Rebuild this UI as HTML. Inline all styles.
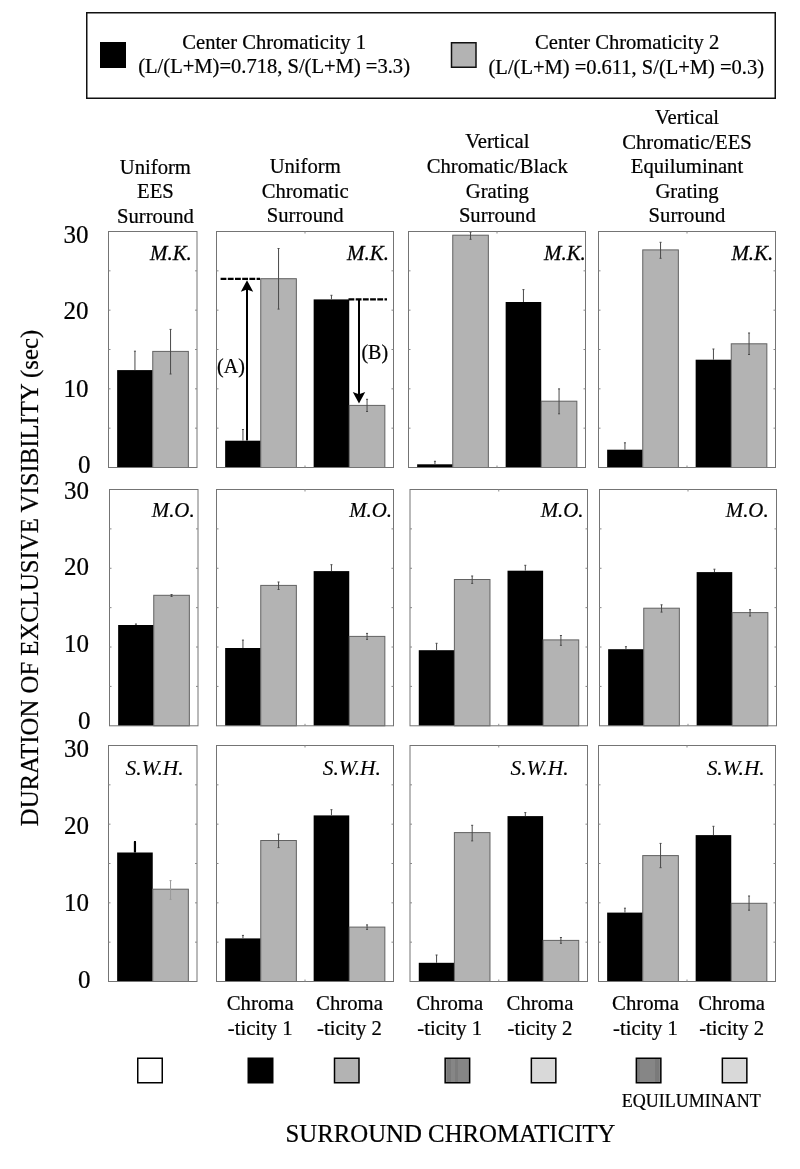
<!DOCTYPE html><html><head><meta charset="utf-8"><title>Figure</title><style>html,body{margin:0;padding:0;background:#fff;}svg{display:block;filter:grayscale(1);}text{font-family:"Liberation Serif", serif;fill:#000;stroke:#000;stroke-width:0.22px;}</style></head><body>
<svg width="800" height="1169" viewBox="0 0 800 1169">
<rect x="0" y="0" width="800" height="1169" fill="#fff"/>
<rect x="86.75" y="12.75" width="688.5" height="85.5" fill="none" stroke="#111" stroke-width="1.5"/>
<rect x="100" y="42" width="26" height="26" fill="#000"/>
<rect x="451.5" y="42.75" width="24.5" height="24.5" fill="#b3b3b3" stroke="#111" stroke-width="1.5"/>
<text x="274.2" y="49.3" font-size="20.55" text-anchor="middle">Center Chromaticity 1</text>
<text x="274.1" y="73.2" font-size="20.55" text-anchor="middle">(L/(L+M)=0.718, S/(L+M) =3.3)</text>
<text x="627.2" y="49.4" font-size="20.6" text-anchor="middle">Center Chromaticity 2</text>
<text x="626.3" y="73.7" font-size="20.5" text-anchor="middle">(L/(L+M) =0.611, S/(L+M) =0.3)</text>
<text x="155.4" y="173.5" font-size="20.65" text-anchor="middle">Uniform</text>
<text x="155.4" y="198.1" font-size="20.65" text-anchor="middle">EES</text>
<text x="155.4" y="222.5" font-size="20.65" text-anchor="middle">Surround</text>
<text x="305.2" y="173.3" font-size="20.65" text-anchor="middle">Uniform</text>
<text x="305.2" y="198.0" font-size="20.65" text-anchor="middle">Chromatic</text>
<text x="305.2" y="222.2" font-size="20.65" text-anchor="middle">Surround</text>
<text x="497.3" y="148.4" font-size="20.65" text-anchor="middle">Vertical</text>
<text x="497.3" y="173.4" font-size="20.65" text-anchor="middle">Chromatic/Black</text>
<text x="497.3" y="198.0" font-size="20.65" text-anchor="middle">Grating</text>
<text x="497.3" y="222.2" font-size="20.65" text-anchor="middle">Surround</text>
<text x="687.0" y="124.0" font-size="20.65" text-anchor="middle">Vertical</text>
<text x="687.0" y="149.0" font-size="20.65" text-anchor="middle">Chromatic/EES</text>
<text x="687.0" y="173.2" font-size="20.65" text-anchor="middle">Equiluminant</text>
<text x="687.0" y="198.0" font-size="20.65" text-anchor="middle">Grating</text>
<text x="687.0" y="222.2" font-size="20.65" text-anchor="middle">Surround</text>
<rect x="117.15" y="370.10" width="35.6" height="97.40" fill="#000"/>
<path d="M134.95 351.20V370.10M133.95 351.20h2" stroke="#4a4a4a" stroke-width="1" fill="none"/>
<rect x="152.75" y="351.40" width="35.6" height="116.10" fill="#b3b3b3" stroke="#626262" stroke-width="1"/>
<path d="M170.55 329.40V374.00M169.55 329.40h2M169.55 374.00h2" stroke="#4a4a4a" stroke-width="1" fill="none"/>
<rect x="108.5" y="231.5" width="88.5" height="236.00" fill="none" stroke="#747474" stroke-width="1"/>
<path d="M108.5 428.17h2M108.5 388.83h2M108.5 349.50h2M108.5 310.17h2M108.5 270.83h2M197.0 428.17h-2M197.0 388.83h-2M197.0 349.50h-2M197.0 310.17h-2M197.0 270.83h-2" stroke="#8a8a8a" stroke-width="1" fill="none"/>
<rect x="225.15" y="440.70" width="35.6" height="26.80" fill="#000"/>
<path d="M242.95 429.50V440.70M241.95 429.50h2" stroke="#4a4a4a" stroke-width="1" fill="none"/>
<rect x="260.75" y="278.70" width="35.6" height="188.80" fill="#b3b3b3" stroke="#626262" stroke-width="1"/>
<path d="M278.55 248.50V309.10M277.55 248.50h2M277.55 309.10h2" stroke="#4a4a4a" stroke-width="1" fill="none"/>
<rect x="313.65" y="299.40" width="35.6" height="168.10" fill="#000"/>
<path d="M331.45 295.30V299.40M330.45 295.30h2" stroke="#4a4a4a" stroke-width="1" fill="none"/>
<rect x="349.25" y="405.40" width="35.6" height="62.10" fill="#b3b3b3" stroke="#626262" stroke-width="1"/>
<path d="M367.05 399.30V411.50M366.05 399.30h2M366.05 411.50h2" stroke="#4a4a4a" stroke-width="1" fill="none"/>
<rect x="216.5" y="231.5" width="177.0" height="236.00" fill="none" stroke="#747474" stroke-width="1"/>
<path d="M216.5 428.17h2M216.5 388.83h2M216.5 349.50h2M216.5 310.17h2M216.5 270.83h2M393.5 428.17h-2M393.5 388.83h-2M393.5 349.50h-2M393.5 310.17h-2M393.5 270.83h-2M305.00 231.5v2M305.00 467.5v-2" stroke="#8a8a8a" stroke-width="1" fill="none"/>
<rect x="417.15" y="464.30" width="35.6" height="3.20" fill="#000"/>
<path d="M434.95 461.30V464.30M433.95 461.30h2" stroke="#4a4a4a" stroke-width="1" fill="none"/>
<rect x="452.75" y="235.20" width="35.6" height="232.30" fill="#b3b3b3" stroke="#626262" stroke-width="1"/>
<path d="M470.55 232.10V239.30M469.55 232.10h2M469.55 239.30h2" stroke="#4a4a4a" stroke-width="1" fill="none"/>
<rect x="505.65" y="302.00" width="35.6" height="165.50" fill="#000"/>
<path d="M523.45 289.60V302.00M522.45 289.60h2" stroke="#4a4a4a" stroke-width="1" fill="none"/>
<rect x="541.25" y="401.20" width="35.6" height="66.30" fill="#b3b3b3" stroke="#626262" stroke-width="1"/>
<path d="M559.05 388.90V413.80M558.05 388.90h2M558.05 413.80h2" stroke="#4a4a4a" stroke-width="1" fill="none"/>
<rect x="408.5" y="231.5" width="177.0" height="236.00" fill="none" stroke="#747474" stroke-width="1"/>
<path d="M408.5 428.17h2M408.5 388.83h2M408.5 349.50h2M408.5 310.17h2M408.5 270.83h2M585.5 428.17h-2M585.5 388.83h-2M585.5 349.50h-2M585.5 310.17h-2M585.5 270.83h-2M497.00 231.5v2M497.00 467.5v-2" stroke="#8a8a8a" stroke-width="1" fill="none"/>
<rect x="607.15" y="449.70" width="35.6" height="17.80" fill="#000"/>
<path d="M624.95 442.80V449.70M623.95 442.80h2" stroke="#4a4a4a" stroke-width="1" fill="none"/>
<rect x="642.75" y="249.90" width="35.6" height="217.60" fill="#b3b3b3" stroke="#626262" stroke-width="1"/>
<path d="M660.55 242.30V258.30M659.55 242.30h2M659.55 258.30h2" stroke="#4a4a4a" stroke-width="1" fill="none"/>
<rect x="695.65" y="359.70" width="35.6" height="107.80" fill="#000"/>
<path d="M713.45 349.00V359.70M712.45 349.00h2" stroke="#4a4a4a" stroke-width="1" fill="none"/>
<rect x="731.25" y="343.80" width="35.6" height="123.70" fill="#b3b3b3" stroke="#626262" stroke-width="1"/>
<path d="M749.05 333.00V354.50M748.05 333.00h2M748.05 354.50h2" stroke="#4a4a4a" stroke-width="1" fill="none"/>
<rect x="598.5" y="231.5" width="177.0" height="236.00" fill="none" stroke="#747474" stroke-width="1"/>
<path d="M598.5 428.17h2M598.5 388.83h2M598.5 349.50h2M598.5 310.17h2M598.5 270.83h2M775.5 428.17h-2M775.5 388.83h-2M775.5 349.50h-2M775.5 310.17h-2M775.5 270.83h-2M687.00 231.5v2M687.00 467.5v-2" stroke="#8a8a8a" stroke-width="1" fill="none"/>
<rect x="118.15" y="625.00" width="35.6" height="100.80" fill="#000"/>
<path d="M135.95 624.00V625.00M134.95 624.00h2" stroke="#4a4a4a" stroke-width="1" fill="none"/>
<rect x="153.75" y="595.30" width="35.6" height="130.50" fill="#b3b3b3" stroke="#626262" stroke-width="1"/>
<path d="M171.55 594.50V596.50M170.55 594.50h2M170.55 596.50h2" stroke="#4a4a4a" stroke-width="1" fill="none"/>
<rect x="109.5" y="489.5" width="88.5" height="236.30" fill="none" stroke="#747474" stroke-width="1"/>
<path d="M109.5 686.42h2M109.5 647.03h2M109.5 607.65h2M109.5 568.27h2M109.5 528.88h2M198.0 686.42h-2M198.0 647.03h-2M198.0 607.65h-2M198.0 568.27h-2M198.0 528.88h-2" stroke="#8a8a8a" stroke-width="1" fill="none"/>
<rect x="225.15" y="648.00" width="35.6" height="77.80" fill="#000"/>
<path d="M242.95 640.10V648.00M241.95 640.10h2" stroke="#4a4a4a" stroke-width="1" fill="none"/>
<rect x="260.75" y="585.40" width="35.6" height="140.40" fill="#b3b3b3" stroke="#626262" stroke-width="1"/>
<path d="M278.55 582.00V589.50M277.55 582.00h2M277.55 589.50h2" stroke="#4a4a4a" stroke-width="1" fill="none"/>
<rect x="313.65" y="571.10" width="35.6" height="154.70" fill="#000"/>
<path d="M331.45 564.70V571.10M330.45 564.70h2" stroke="#4a4a4a" stroke-width="1" fill="none"/>
<rect x="349.25" y="636.40" width="35.6" height="89.40" fill="#b3b3b3" stroke="#626262" stroke-width="1"/>
<path d="M367.05 633.40V639.40M366.05 633.40h2M366.05 639.40h2" stroke="#4a4a4a" stroke-width="1" fill="none"/>
<rect x="216.5" y="489.5" width="177.0" height="236.30" fill="none" stroke="#747474" stroke-width="1"/>
<path d="M216.5 686.42h2M216.5 647.03h2M216.5 607.65h2M216.5 568.27h2M216.5 528.88h2M393.5 686.42h-2M393.5 647.03h-2M393.5 607.65h-2M393.5 568.27h-2M393.5 528.88h-2M305.00 489.5v2M305.00 725.8v-2" stroke="#8a8a8a" stroke-width="1" fill="none"/>
<rect x="418.77" y="650.20" width="35.6" height="75.60" fill="#000"/>
<path d="M436.57 643.30V650.20M435.57 643.30h2" stroke="#4a4a4a" stroke-width="1" fill="none"/>
<rect x="454.38" y="579.50" width="35.6" height="146.30" fill="#b3b3b3" stroke="#626262" stroke-width="1"/>
<path d="M472.18 576.00V583.40M471.18 576.00h2M471.18 583.40h2" stroke="#4a4a4a" stroke-width="1" fill="none"/>
<rect x="507.52" y="570.70" width="35.6" height="155.10" fill="#000"/>
<path d="M525.32 565.30V570.70M524.32 565.30h2" stroke="#4a4a4a" stroke-width="1" fill="none"/>
<rect x="543.12" y="639.90" width="35.6" height="85.90" fill="#b3b3b3" stroke="#626262" stroke-width="1"/>
<path d="M560.92 635.50V645.30M559.92 635.50h2M559.92 645.30h2" stroke="#4a4a4a" stroke-width="1" fill="none"/>
<rect x="410.0" y="489.5" width="177.5" height="236.30" fill="none" stroke="#747474" stroke-width="1"/>
<path d="M410.0 686.42h2M410.0 647.03h2M410.0 607.65h2M410.0 568.27h2M410.0 528.88h2M587.5 686.42h-2M587.5 647.03h-2M587.5 607.65h-2M587.5 568.27h-2M587.5 528.88h-2M498.75 489.5v2M498.75 725.8v-2" stroke="#8a8a8a" stroke-width="1" fill="none"/>
<rect x="608.15" y="649.20" width="35.6" height="76.60" fill="#000"/>
<path d="M625.95 646.70V649.20M624.95 646.70h2" stroke="#4a4a4a" stroke-width="1" fill="none"/>
<rect x="643.75" y="608.20" width="35.6" height="117.60" fill="#b3b3b3" stroke="#626262" stroke-width="1"/>
<path d="M661.55 604.80V612.10M660.55 604.80h2M660.55 612.10h2" stroke="#4a4a4a" stroke-width="1" fill="none"/>
<rect x="696.65" y="572.10" width="35.6" height="153.70" fill="#000"/>
<path d="M714.45 569.20V572.10M713.45 569.20h2" stroke="#4a4a4a" stroke-width="1" fill="none"/>
<rect x="732.25" y="612.60" width="35.6" height="113.20" fill="#b3b3b3" stroke="#626262" stroke-width="1"/>
<path d="M750.05 609.70V616.00M749.05 609.70h2M749.05 616.00h2" stroke="#4a4a4a" stroke-width="1" fill="none"/>
<rect x="599.5" y="489.5" width="177.0" height="236.30" fill="none" stroke="#747474" stroke-width="1"/>
<path d="M599.5 686.42h2M599.5 647.03h2M599.5 607.65h2M599.5 568.27h2M599.5 528.88h2M776.5 686.42h-2M776.5 647.03h-2M776.5 607.65h-2M776.5 568.27h-2M776.5 528.88h-2M688.00 489.5v2M688.00 725.8v-2" stroke="#8a8a8a" stroke-width="1" fill="none"/>
<rect x="117.15" y="852.50" width="35.6" height="129.00" fill="#000"/>
<path d="M134.95 842.00V852.50M133.95 842.00h2" stroke="#000" stroke-width="2.2" fill="none"/>
<rect x="152.75" y="889.20" width="35.6" height="92.30" fill="#b3b3b3" stroke="#626262" stroke-width="1"/>
<path d="M170.55 880.60V899.40M169.55 880.60h2M169.55 899.40h2" stroke="#9a9a9a" stroke-width="1" fill="none"/>
<rect x="108.5" y="745.5" width="88.5" height="236.00" fill="none" stroke="#747474" stroke-width="1"/>
<path d="M108.5 942.17h2M108.5 902.83h2M108.5 863.50h2M108.5 824.17h2M108.5 784.83h2M197.0 942.17h-2M197.0 902.83h-2M197.0 863.50h-2M197.0 824.17h-2M197.0 784.83h-2" stroke="#8a8a8a" stroke-width="1" fill="none"/>
<rect x="225.15" y="938.40" width="35.6" height="43.10" fill="#000"/>
<path d="M242.95 935.40V938.40M241.95 935.40h2" stroke="#4a4a4a" stroke-width="1" fill="none"/>
<rect x="260.75" y="840.50" width="35.6" height="141.00" fill="#b3b3b3" stroke="#626262" stroke-width="1"/>
<path d="M278.55 834.10V847.60M277.55 834.10h2M277.55 847.60h2" stroke="#4a4a4a" stroke-width="1" fill="none"/>
<rect x="313.65" y="815.40" width="35.6" height="166.10" fill="#000"/>
<path d="M331.45 809.70V815.40M330.45 809.70h2" stroke="#4a4a4a" stroke-width="1" fill="none"/>
<rect x="349.25" y="927.10" width="35.6" height="54.40" fill="#b3b3b3" stroke="#626262" stroke-width="1"/>
<path d="M367.05 924.90V929.40M366.05 924.90h2M366.05 929.40h2" stroke="#4a4a4a" stroke-width="1" fill="none"/>
<rect x="216.5" y="745.5" width="177.0" height="236.00" fill="none" stroke="#747474" stroke-width="1"/>
<path d="M216.5 942.17h2M216.5 902.83h2M216.5 863.50h2M216.5 824.17h2M216.5 784.83h2M393.5 942.17h-2M393.5 902.83h-2M393.5 863.50h-2M393.5 824.17h-2M393.5 784.83h-2M305.00 745.5v2M305.00 981.5v-2" stroke="#8a8a8a" stroke-width="1" fill="none"/>
<rect x="418.77" y="962.80" width="35.6" height="18.70" fill="#000"/>
<path d="M436.57 955.00V962.80M435.57 955.00h2" stroke="#4a4a4a" stroke-width="1" fill="none"/>
<rect x="454.38" y="832.60" width="35.6" height="148.90" fill="#b3b3b3" stroke="#626262" stroke-width="1"/>
<path d="M472.18 825.30V840.90M471.18 825.30h2M471.18 840.90h2" stroke="#4a4a4a" stroke-width="1" fill="none"/>
<rect x="507.52" y="816.10" width="35.6" height="165.40" fill="#000"/>
<path d="M525.32 812.60V816.10M524.32 812.60h2" stroke="#4a4a4a" stroke-width="1" fill="none"/>
<rect x="543.12" y="940.40" width="35.6" height="41.10" fill="#b3b3b3" stroke="#626262" stroke-width="1"/>
<path d="M560.92 937.50V943.30M559.92 937.50h2M559.92 943.30h2" stroke="#4a4a4a" stroke-width="1" fill="none"/>
<rect x="410.0" y="745.5" width="177.5" height="236.00" fill="none" stroke="#747474" stroke-width="1"/>
<path d="M410.0 942.17h2M410.0 902.83h2M410.0 863.50h2M410.0 824.17h2M410.0 784.83h2M587.5 942.17h-2M587.5 902.83h-2M587.5 863.50h-2M587.5 824.17h-2M587.5 784.83h-2M498.75 745.5v2M498.75 981.5v-2" stroke="#8a8a8a" stroke-width="1" fill="none"/>
<rect x="607.15" y="912.60" width="35.6" height="68.90" fill="#000"/>
<path d="M624.95 908.20V912.60M623.95 908.20h2" stroke="#4a4a4a" stroke-width="1" fill="none"/>
<rect x="642.75" y="855.60" width="35.6" height="125.90" fill="#b3b3b3" stroke="#626262" stroke-width="1"/>
<path d="M660.55 843.40V867.70M659.55 843.40h2M659.55 867.70h2" stroke="#4a4a4a" stroke-width="1" fill="none"/>
<rect x="695.65" y="835.10" width="35.6" height="146.40" fill="#000"/>
<path d="M713.45 826.30V835.10M712.45 826.30h2" stroke="#4a4a4a" stroke-width="1" fill="none"/>
<rect x="731.25" y="903.30" width="35.6" height="78.20" fill="#b3b3b3" stroke="#626262" stroke-width="1"/>
<path d="M749.05 896.00V910.20M748.05 896.00h2M748.05 910.20h2" stroke="#4a4a4a" stroke-width="1" fill="none"/>
<rect x="598.5" y="745.5" width="177.0" height="236.00" fill="none" stroke="#747474" stroke-width="1"/>
<path d="M598.5 942.17h2M598.5 902.83h2M598.5 863.50h2M598.5 824.17h2M598.5 784.83h2M775.5 942.17h-2M775.5 902.83h-2M775.5 863.50h-2M775.5 824.17h-2M775.5 784.83h-2M687.00 745.5v2M687.00 981.5v-2" stroke="#8a8a8a" stroke-width="1" fill="none"/>
<text x="191.85" y="259.75" font-size="20.9" font-style="italic" text-anchor="end" style="stroke-width:0.28px">M.K.</text>
<text x="388.90" y="259.75" font-size="20.9" font-style="italic" text-anchor="end" style="stroke-width:0.28px">M.K.</text>
<text x="585.80" y="259.75" font-size="20.9" font-style="italic" text-anchor="end" style="stroke-width:0.28px">M.K.</text>
<text x="773.20" y="259.75" font-size="20.9" font-style="italic" text-anchor="end" style="stroke-width:0.28px">M.K.</text>
<text x="194.60" y="516.5" font-size="20.8" font-style="italic" text-anchor="end" style="stroke-width:0.2px">M.O.</text>
<text x="392.00" y="516.5" font-size="20.8" font-style="italic" text-anchor="end" style="stroke-width:0.2px">M.O.</text>
<text x="583.50" y="516.5" font-size="20.8" font-style="italic" text-anchor="end" style="stroke-width:0.2px">M.O.</text>
<text x="768.60" y="516.5" font-size="20.8" font-style="italic" text-anchor="end" style="stroke-width:0.2px">M.O.</text>
<text x="183.60" y="774.8" font-size="21.4" font-style="italic" text-anchor="end" style="stroke-width:0.1px">S.W.H.</text>
<text x="380.80" y="774.8" font-size="21.4" font-style="italic" text-anchor="end" style="stroke-width:0.1px">S.W.H.</text>
<text x="568.50" y="774.8" font-size="21.4" font-style="italic" text-anchor="end" style="stroke-width:0.1px">S.W.H.</text>
<text x="764.70" y="774.8" font-size="21.4" font-style="italic" text-anchor="end" style="stroke-width:0.1px">S.W.H.</text>
<path d="M220.6 278.9H260" stroke="#000" stroke-width="2.2" stroke-dasharray="5.8 1.4" fill="none"/>
<path d="M348.5 299.4H387" stroke="#000" stroke-width="2.2" stroke-dasharray="5.8 1.4" fill="none"/>
<path d="M247 440.5V289" stroke="#000" stroke-width="2" fill="none"/>
<path d="M247 280.3L253.2 291.8L247 289.6L240.8 291.8Z" fill="#000"/>
<path d="M359 299.5V395" stroke="#000" stroke-width="2" fill="none"/>
<path d="M359 403.6L365.2 392L359 394.3L352.8 392Z" fill="#000"/>
<text x="231" y="372.6" font-size="20" text-anchor="middle">(A)</text>
<text x="374.8" y="359.1" font-size="20" text-anchor="middle">(B)</text>
<text x="88.6" y="242.5" font-size="25" text-anchor="end">30</text>
<text x="88.6" y="319.2" font-size="25" text-anchor="end">20</text>
<text x="88.6" y="396.6" font-size="25" text-anchor="end">10</text>
<text x="90.5" y="473.4" font-size="25" text-anchor="end">0</text>
<text x="89.0" y="498.5" font-size="25" text-anchor="end">30</text>
<text x="88.9" y="575.4" font-size="25" text-anchor="end">20</text>
<text x="88.9" y="652.4" font-size="25" text-anchor="end">10</text>
<text x="90.5" y="729.0" font-size="25" text-anchor="end">0</text>
<text x="89.0" y="756.8" font-size="25" text-anchor="end">30</text>
<text x="88.9" y="833.8" font-size="25" text-anchor="end">20</text>
<text x="88.9" y="911.0" font-size="25" text-anchor="end">10</text>
<text x="90.5" y="987.5" font-size="25" text-anchor="end">0</text>
<text transform="translate(38.2 578) rotate(-90)" x="0" y="0" font-size="24.75" text-anchor="middle">DURATION OF EXCLUSIVE VISIBILITY (sec)</text>
<text x="260.2" y="1010" font-size="20.75" text-anchor="middle">Chroma</text>
<text x="260.2" y="1034.5" font-size="20.65" text-anchor="middle">-ticity 1</text>
<text x="349.5" y="1010" font-size="20.75" text-anchor="middle">Chroma</text>
<text x="349.5" y="1034.5" font-size="20.65" text-anchor="middle">-ticity 2</text>
<text x="449.7" y="1010" font-size="20.75" text-anchor="middle">Chroma</text>
<text x="449.7" y="1034.5" font-size="20.65" text-anchor="middle">-ticity 1</text>
<text x="540.0" y="1010" font-size="20.75" text-anchor="middle">Chroma</text>
<text x="540.0" y="1034.5" font-size="20.65" text-anchor="middle">-ticity 2</text>
<text x="645.5" y="1010" font-size="20.75" text-anchor="middle">Chroma</text>
<text x="645.5" y="1034.5" font-size="20.65" text-anchor="middle">-ticity 1</text>
<text x="731.6" y="1010" font-size="20.75" text-anchor="middle">Chroma</text>
<text x="731.6" y="1034.5" font-size="20.65" text-anchor="middle">-ticity 2</text>
<defs><pattern id="stripe" patternUnits="userSpaceOnUse" x="0" y="0" width="26" height="26"><rect width="26" height="26" fill="#868686"/><rect x="5" width="4" height="26" fill="#7a7a7a"/><rect x="13" width="3" height="26" fill="#7c7c7c"/></pattern></defs>
<rect x="137.75" y="1058.25" width="24.5" height="24.5" fill="#fff" stroke="#000" stroke-width="1.5"/>
<rect x="247.5" y="1057.5" width="26" height="26" fill="#000"/>
<rect x="334.5" y="1058.25" width="24.5" height="24.5" fill="#b3b3b3" stroke="#000" stroke-width="1.5"/>
<rect x="445.15" y="1058.25" width="24.5" height="24.5" fill="url(#stripe)" stroke="#000" stroke-width="1.5"/>
<rect x="531.35" y="1058.25" width="24.5" height="24.5" fill="#d9d9d9" stroke="#000" stroke-width="1.5"/>
<rect x="636.35" y="1058.25" width="24.5" height="24.5" fill="url(#stripe)" stroke="#000" stroke-width="1.5"/>
<rect x="722.35" y="1058.25" width="24.5" height="24.5" fill="#d9d9d9" stroke="#000" stroke-width="1.5"/>
<text x="691.3" y="1106.7" font-size="18" text-anchor="middle">EQUILUMINANT</text>
<text x="450.5" y="1141.6" font-size="24.8" text-anchor="middle">SURROUND CHROMATICITY</text>
</svg></body></html>
